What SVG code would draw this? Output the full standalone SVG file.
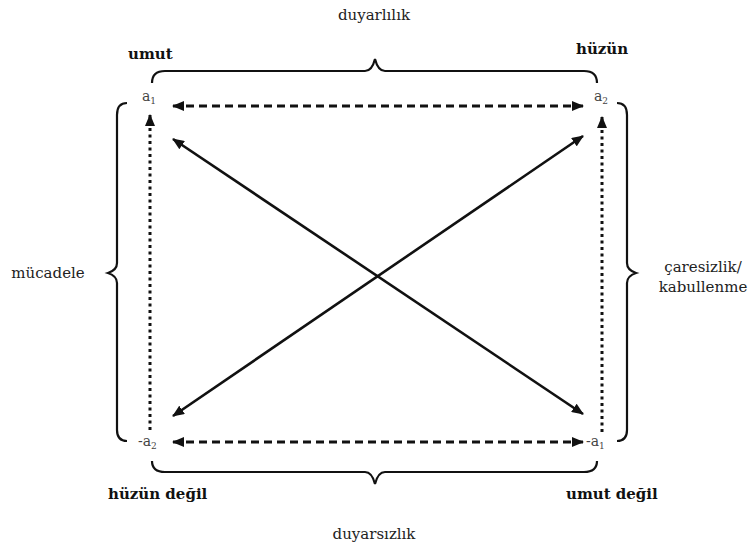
<svg xmlns="http://www.w3.org/2000/svg" width="749" height="550" viewBox="0 0 749 550">
<style>
text{font-family:"DejaVu Serif","Liberation Serif",serif;fill:#222}
.lbl{font-size:15px}
.b{font-size:15px;font-weight:bold;fill:#111}
.v{font-size:14px;fill:#444}
.sub{font-size:9px}
.brace{fill:none;stroke:#111;stroke-width:2.2}
.solid{stroke:#111;stroke-width:2.6;fill:none}
.dash{stroke:#111;stroke-width:3;stroke-dasharray:8,5;fill:none}
.dot{stroke:#111;stroke-width:3;stroke-dasharray:3,3.5;fill:none}
</style>
<defs>
<marker id="ah" viewBox="0 0 12 10" refX="11" refY="5" markerWidth="12" markerHeight="10" markerUnits="userSpaceOnUse" orient="auto-start-reverse">
<path d="M0,0 L12,5 L0,10 Z" fill="#111"/>
</marker>
</defs>
<rect width="749" height="550" fill="#fff"/>
<g id="braces">
<path class="brace" d="M152,83 Q152,71 165,71 L365,71 Q372,71 375,59 Q378,71 385,71 L584,71 Q597,71 597,83"/>
<path class="brace" d="M152,461 Q152,472 165,472 L365,472 Q372,472 375,484 Q378,472 385,472 L584,472 Q597,472 597,461"/>
<path class="brace" d="M127,103 Q117,103 117,115 L117,263 Q117,270 108,273 Q117,276 117,283 L117,430 Q117,441 127,441"/>
<path class="brace" d="M617,103 Q627,103 627,115 L627,263 Q627,270 636,273 Q627,276 627,283 L627,430 Q627,441 617,441"/>
</g>
<g id="connectors">
<line class="dash" x1="173" y1="106" x2="583" y2="106" marker-start="url(#ah)" marker-end="url(#ah)"/>
<line class="dash" x1="173" y1="442" x2="583" y2="442" marker-start="url(#ah)" marker-end="url(#ah)"/>
<line class="dot" x1="150" y1="430" x2="150" y2="115" marker-end="url(#ah)"/>
<line class="dot" x1="602" y1="432" x2="602" y2="117" marker-end="url(#ah)"/>
<line class="solid" x1="173" y1="139" x2="583" y2="414" marker-start="url(#ah)" marker-end="url(#ah)"/>
<line class="solid" x1="583" y1="136" x2="173" y2="416" marker-start="url(#ah)" marker-end="url(#ah)"/>
</g>
<g id="node-a1"><text class="v" x="142" y="101">a<tspan class="sub" dy="3">1</tspan></text></g>
<g id="node-a2"><text class="v" x="594" y="101">a<tspan class="sub" dy="3">2</tspan></text></g>
<g id="node-na2"><text class="v" x="138" y="446">-a<tspan class="sub" dy="3">2</tspan></text></g>
<g id="node-na1"><text class="v" x="586" y="446">-a<tspan class="sub" dy="3">1</tspan></text></g>
<g id="labels">
<text class="b" x="128" y="59">umut</text>
<text class="b" x="576" y="54">hüzün</text>
<text class="b" x="108" y="499">hüzün değil</text>
<text class="b" x="566" y="499">umut değil</text>
<text class="lbl" x="374" y="20" text-anchor="middle">duyarlılık</text>
<text class="lbl" x="374" y="539" text-anchor="middle">duyarsızlık</text>
<text class="lbl" x="48" y="278" text-anchor="middle">mücadele</text>
<text class="lbl" x="703" y="272" text-anchor="middle">çaresizlik/</text>
<text class="lbl" x="703" y="292" text-anchor="middle">kabullenme</text>
</g>
</svg>
